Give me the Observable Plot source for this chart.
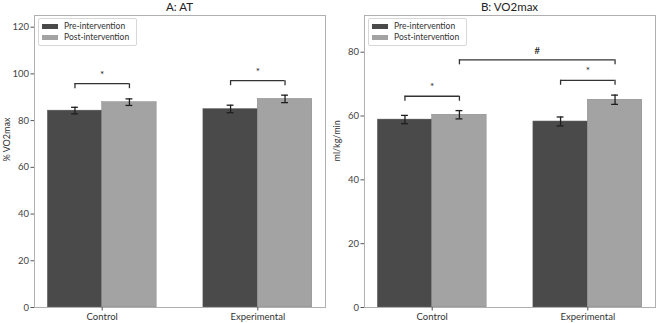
<!DOCTYPE html>
<html><head><meta charset="utf-8">
<script src="https://cdn.jsdelivr.net/npm/d3@7"></script>
<script src="https://cdn.jsdelivr.net/npm/@observablehq/plot@0.6"></script>
<style>
body{margin:0;background:#fff;font-family:Lato,sans-serif;}
#wrap{position:relative;width:659px;height:323px;overflow:hidden;background:#fff}
.panel{position:absolute;top:0}
.title{position:absolute;top:0px;font-size:11.5px;color:#222;transform:translateX(-50%);white-space:nowrap;line-height:14px}
.legend{position:absolute;border:1px solid #d8d8d8;border-radius:2px;background:rgba(255,255,255,0.9);font-size:8.5px;color:#333;padding:2px 7px 2px 3px;line-height:11px}
.legend .row{display:flex;align-items:center;white-space:nowrap}
.legend .sw{display:inline-block;width:16px;height:5.5px;margin-right:6px}
</style>
</head><body>
<div id="wrap"></div>
<script>
// ---- data ----
const groups = ["Control", "Experimental"];
const series = ["Pre-intervention", "Post-intervention"];
const seriesColors = ["#4a4a4a", "#a3a3a3"];

const atTitle = "A: AT";
const atYLabel = "% VO2max";
const atPre = [84.3, 85.0];
const atPost = [87.9, 89.3];
const atPreErr = [1.4, 1.6];
const atPostErr = [1.4, 1.6];
const atTicks = [0, 20, 40, 60, 80, 100, 120];
const atYMax = 125;
// brackets: [group1, series1, group2, series2, level, label]
const atBrackets = [
  [0, 0, 0, 1, 95.8, "*"],
  [1, 0, 1, 1, 97.1, "*"]
];

const voTitle = "B: VO2max";
const voYLabel = "ml/kg/min";
const voPre = [58.9, 58.3];
const voPost = [60.4, 65.1];
const voPreErr = [1.3, 1.4];
const voPostErr = [1.3, 1.45];
const voTicks = [0, 20, 40, 60, 80];
const voYMax = 91.5;
const voBrackets = [
  [0, 0, 0, 1, 66.2, "*"],
  [1, 0, 1, 1, 71.2, "*"],
  [0, 1, 1, 1, 77.6, "#"]
];

const barWidth = 0.35;

function panel({left, width, title, ylabel, pre, post, preErr, postErr, ticks, ymax, brackets}) {
  const rows = [];
  groups.forEach((g, i) => {
    [pre, post].forEach((arr, s) => {
      const errs = s === 0 ? preErr : postErr;
      rows.push({group: g, series: series[s], value: arr[i], err: errs[i], xc: i + (s - 0.5) * barWidth});
    });
  });
  const mr = width === 330 ? 5 : 4;
  const plotH = 323 - 15 - 16;
  const dropPx = 5;
  const drop = dropPx * ymax / plotH;
  const br = brackets.map(([g1, s1, g2, s2, level, label]) => ({
    xa: g1 + (s1 - 0.5) * barWidth,
    xb: g2 + (s2 - 0.5) * barWidth,
    level, label
  }));
  const ends = br.flatMap(b => [{x: b.xa, level: b.level}, {x: b.xb, level: b.level}]);
  const cap = 0.022;
  const chart = Plot.plot({
    width, height: 323,
    marginTop: 15, marginBottom: 16, marginLeft: 34, marginRight: mr,
    style: {fontFamily: "Lato, sans-serif", fontSize: "9.5px", color: "#333", background: "transparent"},
    x: {domain: [-0.435, 1.435]},
    y: {domain: [0, ymax]},
    color: {domain: series, range: seriesColors},
    marks: [
      Plot.rect(rows, {x1: d => d.xc - barWidth / 2, x2: d => d.xc + barWidth / 2, y1: 0, y2: "value", fill: "series", stroke: "#777", strokeWidth: 0.4}),
      Plot.ruleX(rows, {x: "xc", y1: d => d.value - d.err, y2: d => d.value + d.err, stroke: "#1e1e1e", strokeWidth: 1.3}),
      Plot.ruleY(rows, {y: d => d.value + d.err, x1: d => d.xc - cap, x2: d => d.xc + cap, stroke: "#1e1e1e", strokeWidth: 1.3}),
      Plot.ruleY(rows, {y: d => d.value - d.err, x1: d => d.xc - cap, x2: d => d.xc + cap, stroke: "#1e1e1e", strokeWidth: 1.3}),
      Plot.ruleY(br, {y: "level", x1: "xa", x2: "xb", stroke: "#333", strokeWidth: 1.3}),
      Plot.ruleX(ends, {x: "x", y1: d => d.level - drop, y2: "level", stroke: "#333", strokeWidth: 1.3}),
      Plot.text(br, {x: d => (d.xa + d.xb) / 2, y: "level", text: "label", dy: -9, fontSize: 10, fill: "#222"}),
      Plot.frame({stroke: "#b0b0b0", strokeWidth: 1}),
      Plot.axisY({ticks, tickSize: 3.5, tickPadding: 2, label: null, stroke: "#555", fill: "#444"}),
      Plot.text([ylabel], {frameAnchor: "left", dx: -27, rotate: -90, text: d => d, fontSize: 9, fill: "#333"}),
      Plot.axisX({ticks: [0, 1], tickFormat: i => groups[i], tickSize: 3.5, tickPadding: 2, label: null, stroke: "#555", fill: "#333"})
    ]
  });
  const div = document.createElement("div");
  div.className = "panel";
  div.style.left = left + "px";
  div.appendChild(chart);
  document.getElementById("wrap").appendChild(div);

  const t = document.createElement("div");
  t.className = "title";
  t.textContent = title;
  t.style.left = (left + 34 + (width - 34 - mr) / 2) + "px";
  document.getElementById("wrap").appendChild(t);

  const lg = document.createElement("div");
  lg.className = "legend";
  lg.style.left = (left + 38) + "px";
  lg.style.top = "18px";
  series.forEach((s, i) => {
    const r = document.createElement("div");
    r.className = "row";
    const sw = document.createElement("span");
    sw.className = "sw";
    sw.style.background = seriesColors[i];
    r.appendChild(sw);
    r.appendChild(document.createTextNode(s));
    lg.appendChild(r);
  });
  document.getElementById("wrap").appendChild(lg);
}

panel({left: 0, width: 330, title: atTitle, ylabel: atYLabel, pre: atPre, post: atPost, preErr: atPreErr, postErr: atPostErr, ticks: atTicks, ymax: atYMax, brackets: atBrackets});
panel({left: 330, width: 329, title: voTitle, ylabel: voYLabel, pre: voPre, post: voPost, preErr: voPreErr, postErr: voPostErr, ticks: voTicks, ymax: voYMax, brackets: voBrackets});
</script>
</body></html>
